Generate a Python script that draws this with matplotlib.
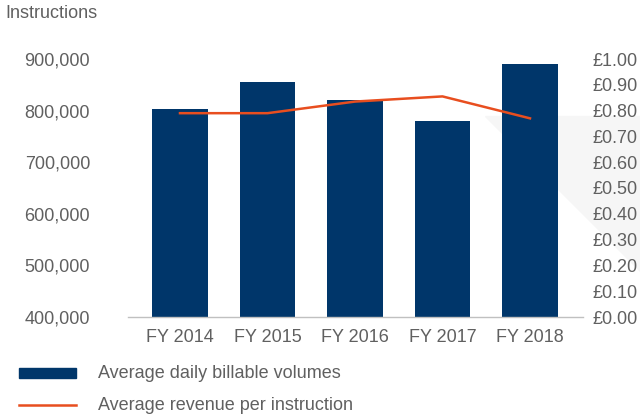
import matplotlib
matplotlib.use('Agg')
import matplotlib.pyplot as plt
from matplotlib.patches import Polygon, Rectangle
from matplotlib.lines import Line2D

years = ['FY 2014', 'FY 2015', 'FY 2016', 'FY 2017', 'FY 2018']
volumes = [803000, 855000, 820000, 780000, 890000]
revenue = [0.79, 0.79, 0.835, 0.855, 0.77]
left_ticks = [400000, 500000, 600000, 700000, 800000, 900000]
right_ticks = [0.0, 0.1, 0.2, 0.3, 0.4, 0.5, 0.6, 0.7, 0.8, 0.9, 1.0]

navy = '#00366a'
orange = '#e84e1f'
grey = '#606060'

plt.rcParams['font.family'] = ['Liberation Sans', 'DejaVu Sans']
plt.rcParams['font.size'] = 13

fig = plt.figure(figsize=(6.4, 4.18), dpi=100)
ax = fig.add_axes([127.5 / 640, 1 - 317 / 418, 455 / 640, 258 / 418])
ax.patch.set_alpha(0)

# faint watermark shape behind the chart
fig.patches.append(Polygon([(485 / 640, 1 - 116 / 418), (1.0, 1 - 116 / 418), (1.0, 1 - 271 / 418)],
                           closed=True, transform=fig.transFigure, color='#f6f6f6', zorder=-1))

x = range(len(years))
ax.bar(x, volumes, width=0.63, color=navy, zorder=2)
ax.set_xlim(-0.6, 4.6)
ax.set_ylim(400000, 900000)
ax.set_yticks(left_ticks)
ax.set_yticklabels(['{:,}'.format(v) for v in left_ticks])
ax.set_xticks(list(x))
ax.set_xticklabels(years)
ax.tick_params(axis='y', length=0, pad=27, colors=grey)
ax.tick_params(axis='x', length=0, pad=9, colors=grey)
for s in ['top', 'right', 'left']:
    ax.spines[s].set_visible(False)
ax.spines['bottom'].set_color('#c0c0c0')
ax.spines['bottom'].set_linewidth(1)

ax2 = ax.twinx()
ax2.plot(x, revenue, color=orange, linewidth=1.8, zorder=3)
ax2.set_ylim(0, 1.0)
ax2.set_yticks(right_ticks)
ax2.set_yticklabels(['£{:.2f}'.format(v) for v in right_ticks])
ax2.tick_params(axis='y', length=0, pad=7, colors=grey)
for s in ax2.spines.values():
    s.set_visible(False)

fig.text(5 / 640, 1 - 14 / 418, 'Instructions', color=grey, fontsize=13, va='center', ha='left')

# legend
fig.patches.append(Rectangle((19 / 640, 1 - 378 / 418), 57 / 640, 10 / 418,
                             transform=fig.transFigure, color=navy))
fig.lines.append(Line2D([19 / 640, 76 / 640], [1 - 405 / 418, 1 - 405 / 418],
                        transform=fig.transFigure, color=orange, linewidth=1.8))
fig.text(98 / 640, 1 - 373 / 418, 'Average daily billable volumes', color=grey,
         fontsize=13, va='center', ha='left')
fig.text(98 / 640, 1 - 405 / 418, 'Average revenue per instruction', color=grey,
         fontsize=13, va='center', ha='left')

fig.savefig('out.png', dpi=100)
